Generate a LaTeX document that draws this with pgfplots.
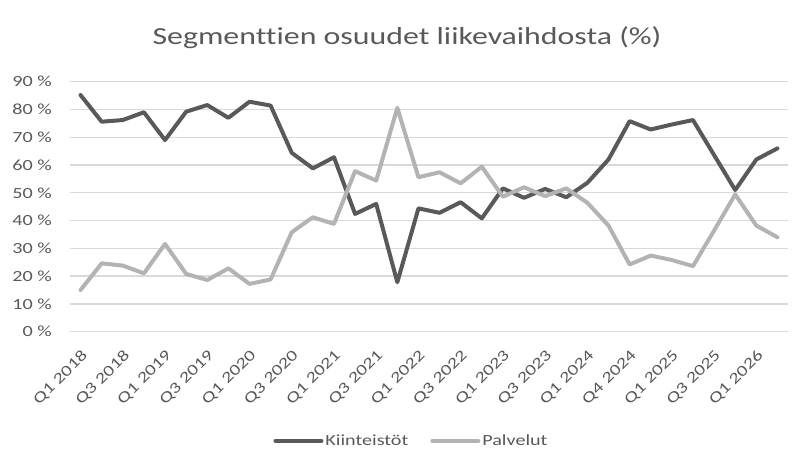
\documentclass[border=0pt]{standalone}
\usepackage{pgfplots}
\pgfplotsset{compat=1.18}
\usepackage{fontspec}
\setmainfont{Carlito}[FakeStretch=1.3, Ligatures=NoCommon]
\definecolor{darkline}{HTML}{595959}
\definecolor{lightline}{HTML}{B3B3B3}
\definecolor{txt}{HTML}{595959}
\definecolor{gridc}{HTML}{D9D9D9}
\begin{document}
\begin{tikzpicture}
\path[use as bounding box] (-70bp,-137.3bp) rectangle (730bp,331.7bp);
\begin{axis}[
  at={(0,0)}, anchor=south west,
  scale only axis, width=718bp, height=250bp,
  xmin=-0.5, xmax=33.5, ymin=0, ymax=90,
  axis line style={draw=none},
  ymajorgrids, major grid style={gridc, line width=1.3bp},
  major tick length=0pt,
  ytick={0,10,...,90},
  yticklabels={0 \%,10 \%,20 \%,30 \%,40 \%,50 \%,60 \%,70 \%,80 \%,90 \%},
  yticklabel style={anchor=east, inner sep=0pt, xshift=-18bp, text=txt, font=\fontsize{15.5bp}{18bp}\selectfont},
  xtick={0,2,...,32},
  xticklabels={Q1 2018,Q3 2018,Q1 2019,Q3 2019,Q1 2020,Q3 2020,Q1 2021,Q3 2021,Q1 2022,Q3 2022,Q1 2023,Q3 2023,Q1 2024,Q4 2024,Q1 2025,Q3 2025,Q1 2026},
  xticklabel style={rotate=45, anchor=north east, inner sep=0pt, text=txt, font=\fontsize{15.5bp}{18bp}\selectfont},
  xticklabel shift=17bp,
  legend columns=2,
  legend style={at={(0.4756,-0.437)}, anchor=center, draw=none, fill=none,
    font=\fontsize{15.5bp}{18bp}\selectfont, text=txt,
    /tikz/every even column/.append style={column sep=20bp}},
  legend cell align=left,
  legend image code/.code={\draw[#1, line width=4bp] (0bp,0bp) -- (46bp,0bp);},
  every axis plot/.append style={line width=4bp, line join=round, line cap=round},
]
\addplot[darkline] coordinates {
(0,85.2) (1,75.6) (2,76.2) (3,79.0) (4,69.0) (5,79.2) (6,81.6) (7,77.0) (8,82.8) (9,81.4)
(10,64.4) (11,58.8) (12,62.8) (13,42.4) (14,46.0) (15,17.8) (16,44.4) (17,42.8) (18,46.6) (19,40.8)
(20,51.6) (21,48.2) (22,51.4) (23,48.4) (24,53.6) (25,62.0) (26,75.8) (27,72.8) (28,74.6) (29,76.2)
(30,63.6) (31,51.0) (32,62.0) (33,66.0)
};
\addlegendentry{Kiinteistöt}
\addplot[lightline] coordinates {
(0,15.0) (1,24.6) (2,23.8) (3,21.0) (4,31.6) (5,20.8) (6,18.6) (7,22.8) (8,17.2) (9,18.8)
(10,35.8) (11,41.2) (12,38.8) (13,57.8) (14,54.4) (15,80.6) (16,55.6) (17,57.4) (18,53.4) (19,59.4)
(20,48.6) (21,52.0) (22,48.8) (23,51.6) (24,46.4) (25,38.2) (26,24.2) (27,27.4) (28,25.8) (29,23.6)
(30,36.4) (31,49.4) (32,38.2) (33,34.0)
};
\addlegendentry{Palvelut}
\end{axis}
\node[anchor=base, text=txt, font=\fontsize{24.5bp}{30bp}\selectfont] at (337bp,286.7bp) {Segmenttien osuudet liikevaihdosta (\%)};
\end{tikzpicture}
\end{document}
